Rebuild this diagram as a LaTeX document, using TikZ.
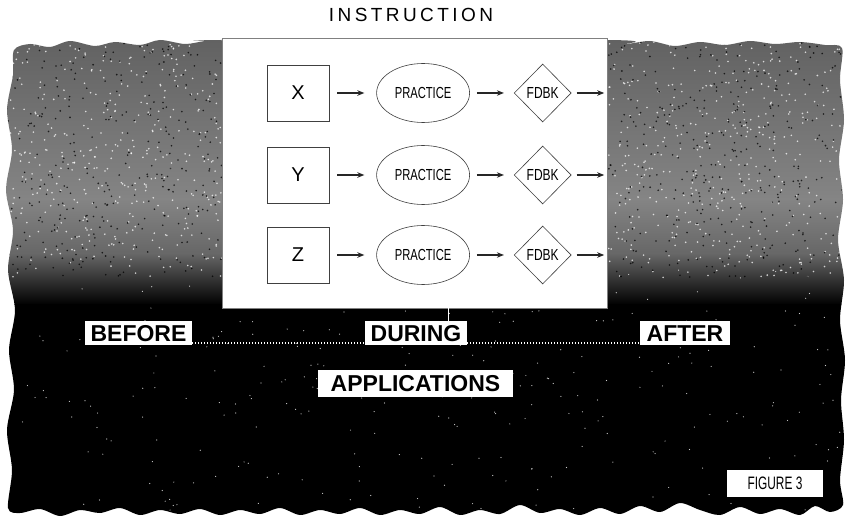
\documentclass[tikz,border=0pt]{standalone}
\usepackage{fontspec}
\setmainfont{Liberation Sans}
\usetikzlibrary{positioning,arrows.meta,shapes.geometric}

\begin{document}
\begin{tikzpicture}[x=1pt,y=-1pt,
  varbox/.style={draw=black!75,line width=0.6pt,minimum width=62pt,minimum height=56pt,inner sep=0pt,font=\fontsize{20}{20}\selectfont},
  prac/.style={ellipse,draw=black!75,line width=0.6pt,minimum width=93pt,minimum height=59pt,inner sep=0pt,font=\fontsize{16}{16}\selectfont},
  fdbk/.style={diamond,draw=black!75,line width=0.6pt,minimum width=57pt,minimum height=58pt,inner sep=0pt,font=\fontsize{16}{16}\selectfont},
  flow/.style={-{Stealth[length=7pt,width=5.5pt]},line width=1.3pt,black!85},
  tag/.style={fill=white,text=black,inner sep=0pt,minimum height=23pt,font=\bfseries\fontsize{23}{23}\selectfont,text height=16.5pt,text depth=0pt},
  trail/.style={white,line width=1.6pt,dash pattern=on 1.2pt off 1.8pt}]
  \useasboundingbox (0,0) rectangle (846,521);

  % torn, shaded backdrop
  \begin{scope}
    \path[clip] plot[smooth cycle,tension=0.5] coordinates {
      (14,50) (30,44) (50,47) (70,41) (95,46) (115,42) (140,45) (160,40) (185,44) (205,41) (222,40)
      (607,40) (625,44) (650,41) (675,46) (700,42) (725,45) (750,41) (775,44) (800,42) (825,45) (842,48)
      (840,80) (844,120) (839,160) (843,200) (838,240) (844,280) (840,320) (845,360) (841,400) (844,440) (840,480) (843,505)
      (830,512) (815,506) (800,515) (780,509) (760,514) (740,507) (720,515) (700,510) (680,503) (660,512)
      (640,506) (620,514) (600,508) (580,515) (560,509) (540,513) (520,505) (500,514) (480,510) (460,515)
      (440,507) (420,514) (400,510) (380,515) (360,508) (340,514) (320,510) (300,515) (280,508) (260,514)
      (240,510) (220,515) (200,509) (180,514) (160,510) (140,515) (120,508) (100,513) (80,510) (60,516)
      (40,509) (20,513) (8,508)
      (12,470) (7,430) (14,390) (9,350) (15,310) (8,270) (13,230) (6,190) (12,150) (7,110) (13,75)};
    \shade[top color=black!62,bottom color=black!48] (0,35) rectangle (846,200);
    \shade[top color=black!48,bottom color=black!60] (0,199) rectangle (846,255);
    \shade[top color=black!60,bottom color=black] (0,254) rectangle (846,305);
    \fill[black] (0,304) rectangle (846,521);
    \pgfmathsetseed{11}
    \foreach \i in {1,...,1500}
      \fill[white,opacity=0.75] ({846*rnd},{38+240*rnd}) circle (0.9);
    \foreach \i in {1,...,1300}
      \fill[black,opacity=0.75] ({846*rnd},{38+240*rnd}) circle (0.9);
    \foreach \i in {1,...,300}
      \fill[white,opacity=0.8] ({846*rnd},{270+245*rnd}) circle (0.6);
  \end{scope}

  % instruction panel
  \node[font=\fontsize{19}{19}\selectfont\addfontfeature{LetterSpace=18}] (title) at (411,15) {INSTRUCTION};
  \node[draw=black!50,line width=0.4pt,fill=white,minimum width=385pt,minimum height=270pt,inner sep=0pt] (instr) at (414.5,173) {};

  \node[varbox] (x1) at (298,93) {X};
  \node[prac,right=47pt of x1] (p1) {\scalebox{0.7}[1]{PRACTICE}};
  \node[fdbk,right=44pt of p1] (f1) {\scalebox{0.75}[1]{FDBK}};
  \coordinate (o1) at ([xshift=-3pt]f1.east -| instr.east);

  \node[varbox] (x2) at (298,175) {Y};
  \node[prac,right=47pt of x2] (p2) {\scalebox{0.7}[1]{PRACTICE}};
  \node[fdbk,right=44pt of p2] (f2) {\scalebox{0.75}[1]{FDBK}};
  \coordinate (o2) at ([xshift=-3pt]f2.east -| instr.east);

  \node[varbox] (x3) at (298,255) {Z};
  \node[prac,right=47pt of x3] (p3) {\scalebox{0.7}[1]{PRACTICE}};
  \node[fdbk,right=44pt of p3] (f3) {\scalebox{0.75}[1]{FDBK}};
  \coordinate (o3) at ([xshift=-3pt]f3.east -| instr.east);

  \draw[flow,shorten <=8pt,shorten >=12pt] (x1) -- (p1);
  \draw[flow,shorten <=7pt,shorten >=10pt] (p1) -- (f1);
  \draw[flow,shorten <=5pt] (f1) -- (o1);
  \draw[flow,shorten <=8pt,shorten >=12pt] (x2) -- (p2);
  \draw[flow,shorten <=7pt,shorten >=10pt] (p2) -- (f2);
  \draw[flow,shorten <=5pt] (f2) -- (o2);
  \draw[flow,shorten <=8pt,shorten >=12pt] (x3) -- (p3);
  \draw[flow,shorten <=7pt,shorten >=10pt] (p3) -- (f3);
  \draw[flow,shorten <=5pt] (f3) -- (o3);

  % time line
  \node[tag,minimum width=107pt] (before) at (138.5,333) {BEFORE};
  \node[tag,minimum width=102pt] (during) at (416,333) {DURING};
  \node[tag,minimum width=90pt] (after) at (685,333) {AFTER};
  \node[tag,minimum width=195pt,minimum height=27pt] (apps) at (415.5,383.5) {APPLICATIONS};
  \draw[trail] ([yshift=1.5pt]before.south east) -- ([yshift=1.5pt]during.south west);
  \draw[trail] ([yshift=1.5pt]during.south east) -- ([yshift=1.5pt]after.south west);
  \draw[white,line width=1pt] ([xshift=32pt]during.north) -- ([xshift=32pt]during.north |- instr.south);

  \node[fill=white,minimum width=96pt,minimum height=27pt,inner sep=0pt,font=\fontsize{18}{18}\selectfont] (fig) at (775,483.5) {\scalebox{0.66}[1]{FIGURE 3}};
\end{tikzpicture}
\end{document}
